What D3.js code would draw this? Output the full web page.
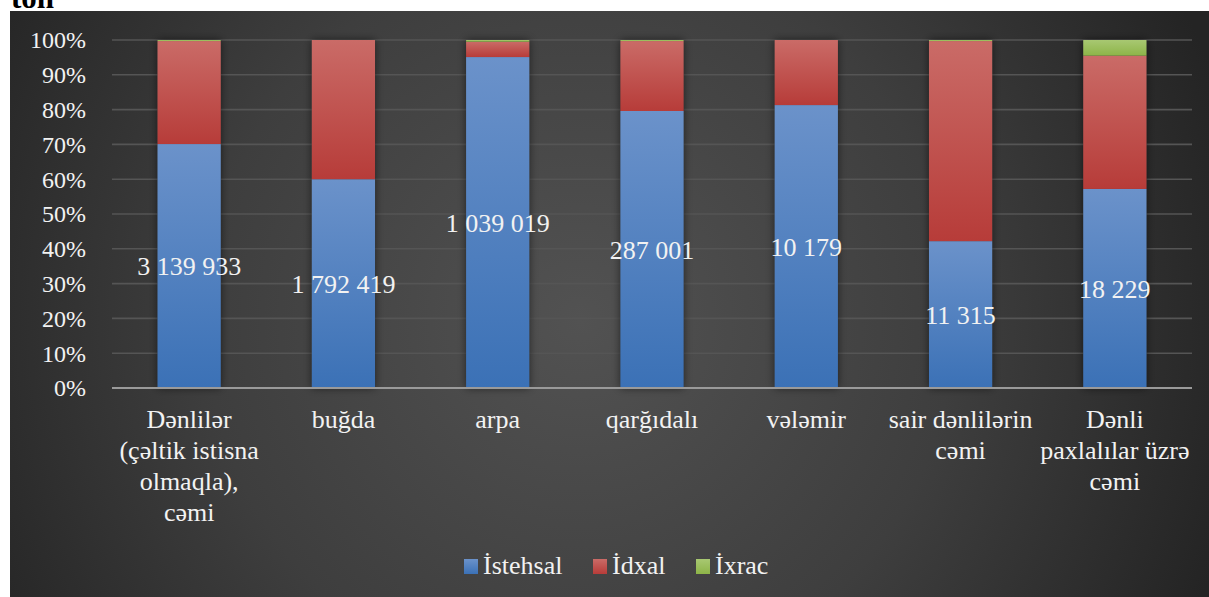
<!DOCTYPE html>
<html>
<head>
<meta charset="utf-8">
<script src="https://cdn.jsdelivr.net/npm/d3@7"></script>
<style>
  html, body { margin: 0; padding: 0; background: #ffffff; }
  svg { display: block; }
  svg text { font-family: "Liberation Serif", "Tinos", "Times New Roman", "DejaVu Serif", serif; }
</style>
</head>
<body>
<svg id="chart" width="1209" height="597"></svg>
<script>
// Category names (line breaks as they wrap under the axis)
const categories = [
  ["Dənlilər", "(çəltik istisna", "olmaqla),", "cəmi"],
  ["buğda"],
  ["arpa"],
  ["qarğıdalı"],
  ["vələmir"],
  ["sair dənlilərin", "cəmi"],
  ["Dənli", "paxlalılar üzrə", "cəmi"]
];
// Shares of each flow in the total, %
const istehsal = [70.1, 60.0, 95.1, 79.6, 81.3, 42.2, 57.2];
const idxal    = [29.6, 40.0,  4.4, 20.1, 18.7, 57.5, 38.3];
const ixrac    = [ 0.3,  0.0,  0.5,  0.3,  0.0,  0.3,  4.5];
// Production volumes, ton (printed on the production segment)
const istehsalTon = ["3 139 933", "1 792 419", "1 039 019", "287 001", "10 179", "11 315", "18 229"];
const seriesNames = ["İstehsal", "İdxal", "İxrac"];
const yTicks = [0, 10, 20, 30, 40, 50, 60, 70, 80, 90, 100];

const svg = d3.select("#chart");
const defs = svg.append("defs");
const textColor = "#f2f2f2";

// Dark panel background
const bg = defs.append("radialGradient").attr("id", "bgGrad")
  .attr("gradientUnits", "userSpaceOnUse")
  .attr("cx", 580).attr("cy", 320).attr("r", 680);
bg.append("stop").attr("offset", "0").attr("stop-color", "#525252");
bg.append("stop").attr("offset", "0.55").attr("stop-color", "#3e3e3e");
bg.append("stop").attr("offset", "1").attr("stop-color", "#242424");

// Segment fills
const fills = [
  ["#6b92ca", "#3b71b6"],
  ["#ca6b67", "#b73c39"],
  ["#a8c872", "#8db448"]
];
fills.forEach((f, i) => {
  const g = defs.append("linearGradient").attr("id", "seg" + i)
    .attr("x1", 0).attr("y1", 0).attr("x2", 0).attr("y2", 1);
  g.append("stop").attr("offset", "0").attr("stop-color", f[0]);
  g.append("stop").attr("offset", "1").attr("stop-color", f[1]);
});

const shadow = defs.append("filter").attr("id", "barShadow")
  .attr("x", "-40%").attr("y", "-10%").attr("width", "180%").attr("height", "120%");
shadow.append("feDropShadow").attr("dx", 0).attr("dy", 0)
  .attr("stdDeviation", 4).attr("flood-color", "#000").attr("flood-opacity", 0.55);

// Unit caption above the panel
svg.append("text").attr("x", 11).attr("y", 8)
  .attr("font-weight", "bold").attr("font-size", 31)
  .attr("fill", "#000").text("ton");

svg.append("rect").attr("x", 10).attr("y", 11).attr("width", 1199).attr("height", 586)
  .attr("fill", "url(#bgGrad)");

// Scales
const x = d3.scaleBand().domain(d3.range(categories.length))
  .range([112, 1192]).paddingInner(0.59).paddingOuter(0.295);
const y = d3.scaleLinear().domain([0, 100]).range([388, 40]);

// Gridlines
svg.append("g").selectAll("line").data(yTicks.filter(t => t > 0)).join("line")
  .attr("x1", 112).attr("x2", 1192)
  .attr("y1", d => y(d)).attr("y2", d => y(d))
  .attr("stroke", "#555555").attr("stroke-width", 1.6);

// Y axis labels
const yAxis = svg.append("g").attr("transform", "translate(112,0)")
  .call(d3.axisLeft(y).tickValues(yTicks).tickFormat(d => d + "%").tickSize(0).tickPadding(26));
yAxis.attr("font-family", null).attr("font-size", null);
yAxis.select(".domain").remove();
yAxis.selectAll("text").attr("font-size", 24)
  .attr("fill", textColor).attr("dy", "0.33em");

// Stacked bars
const rows = categories.map((c, i) => ({ i, istehsal: istehsal[i], idxal: idxal[i], ixrac: ixrac[i] }));
const stack = d3.stack().keys(["istehsal", "idxal", "ixrac"])(rows);

const barsG = svg.append("g");
barsG.selectAll("rect.shadow").data(rows).join("rect")
  .attr("class", "shadow")
  .attr("x", d => x(d.i)).attr("width", x.bandwidth())
  .attr("y", d => y(d.istehsal + d.idxal + d.ixrac))
  .attr("height", d => y(0) - y(d.istehsal + d.idxal + d.ixrac))
  .attr("fill", "#333").attr("filter", "url(#barShadow)");

stack.forEach((layer, k) => {
  barsG.append("g").selectAll("rect").data(layer.filter(d => d[1] - d[0] > 0)).join("rect")
    .attr("x", d => x(d.data.i)).attr("width", x.bandwidth())
    .attr("y", d => y(d[1])).attr("height", d => y(d[0]) - y(d[1]))
    .attr("fill", "url(#seg" + k + ")");
});

// Baseline axis
svg.append("line").attr("x1", 112).attr("x2", 1192)
  .attr("y1", y(0)).attr("y2", y(0))
  .attr("stroke", "#9a9a9a").attr("stroke-width", 2);

// Production value labels, centred on the production segment
svg.append("g").selectAll("text").data(stack[0]).join("text")
  .attr("x", d => x(d.data.i) + x.bandwidth() / 2)
  .attr("y", d => (y(d[0]) + y(d[1])) / 2)
  .attr("dy", "0.35em").attr("text-anchor", "middle")
  .attr("font-size", 26).attr("fill", textColor)
  .text((d, i) => istehsalTon[i]);

// Category labels
const catG = svg.append("g").selectAll("text").data(categories).join("text")
  .attr("text-anchor", "middle").attr("font-size", 26)
  .attr("fill", textColor);
catG.each(function(lines, i) {
  const t = d3.select(this);
  lines.forEach((ln, j) => {
    t.append("tspan").attr("x", x(i) + x.bandwidth() / 2)
      .attr("y", 428 + j * 31).text(ln);
  });
});

// Legend
const legendX = [464, 593, 696];
const legend = svg.append("g").selectAll("g").data(seriesNames).join("g")
  .attr("transform", (d, i) => `translate(${legendX[i]},559)`);
legend.append("rect").attr("width", 14).attr("height", 15)
  .attr("fill", (d, i) => `url(#seg${i})`);
legend.append("text").attr("x", 19).attr("y", 15)
  .attr("font-size", 26).attr("fill", textColor)
  .text(d => d);
</script>
</body>
</html>
